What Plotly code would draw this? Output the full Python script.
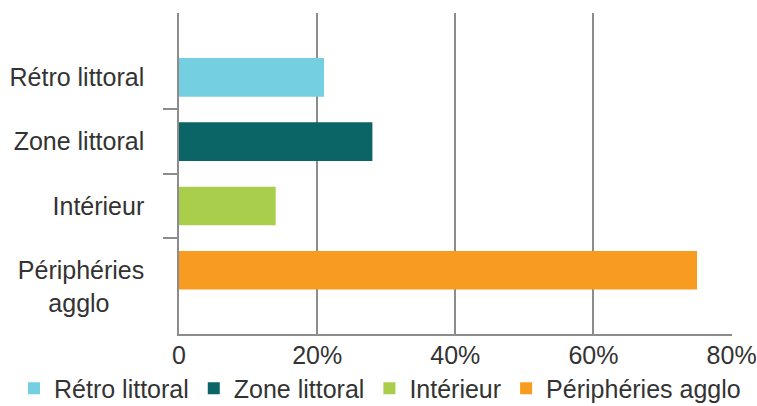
import plotly.graph_objects as go

NB = "\u00a0"
categories = ["Rétro littoral", "Zone littoral", "Intérieur", NB + "<br>Périphéries<br>agglo" + NB * 5]
legend_names = ["Rétro littoral", "Zone littoral", "Intérieur", "Périphéries agglo"]
values = [21, 28, 14, 75]
colors = ["#74CFE1", "#0B6567", "#A8CE4C", "#F79C21"]
x_tickvals = [0, 20, 40, 60, 80]
x_ticktext = ["0", "20%", "40%", "60%", "80%"]

FONT = "Liberation Sans"
TXT = "#333333"
GRID = "#8c8c8c"
FS = 25

fig = go.Figure()
for cat, name, v, c in zip(categories, legend_names, values, colors):
    fig.add_trace(go.Bar(
        x=[v], y=[cat], name=name, orientation="h",
        marker=dict(color=c, line=dict(width=0)), width=0.6,
    ))

# helper axis for tick marks between categories
fig.add_trace(go.Scatter(x=[None], y=[None], yaxis="y2", showlegend=False, hoverinfo="skip"))

n = len(categories)
yrange = [n - 0.01, -1.0]

fig.update_layout(
    width=757, height=406,
    margin=dict(l=179, r=25, t=13, b=72, autoexpand=False),
    paper_bgcolor="white", plot_bgcolor="white",
    barmode="overlay",
    font=dict(family=FONT, size=FS, color=TXT),
    xaxis=dict(
        range=[0, 80.06], tickvals=x_tickvals, ticktext=x_ticktext,
        showgrid=True, gridcolor=GRID, gridwidth=1.5,
        showline=True, linecolor=GRID, linewidth=1.5,
        zeroline=False, ticks="", ticklabelstandoff=-2,
        ticklabeloverflow="allow",
        tickfont=dict(family=FONT, size=FS, color=TXT),
    ),
    yaxis=dict(
        type="category", categoryorder="array", categoryarray=categories,
        range=yrange, showgrid=False, zeroline=False,
        showline=True, linecolor=GRID, linewidth=1.5,
        ticks="", ticklabelstandoff=28,
        tickfont=dict(family=FONT, size=FS, color=TXT),
    ),
    yaxis2=dict(
        overlaying="y", side="left", anchor="x",
        range=yrange, tickvals=[i + 0.5 for i in range(n - 1)],
        showticklabels=False, ticks="outside", ticklen=15,
        tickcolor=GRID, tickwidth=1.5,
        showgrid=False, zeroline=False, showline=False,
    ),
    legend=dict(
        orientation="h", x=(14 - 179) / 553, xanchor="left", y=-0.17, yanchor="middle",
        font=dict(family=FONT, size=FS, color=TXT),
        traceorder="normal", itemclick=False, itemdoubleclick=False,
        bgcolor="rgba(0,0,0,0)", itemwidth=30,
    ),
    showlegend=True,
)

fig.write_html("out.html")
